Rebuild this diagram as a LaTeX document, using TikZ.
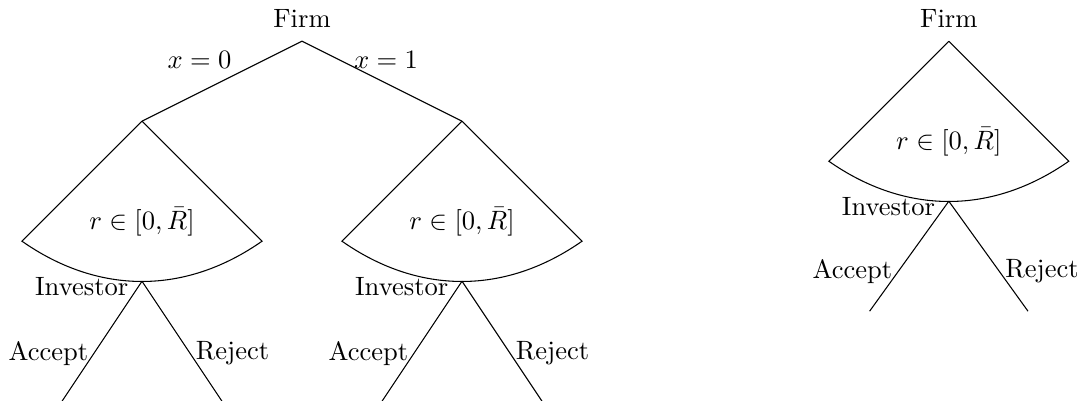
\documentclass[tikz,border=0pt]{standalone}
\usepackage{amsmath}
\usepackage{tikz}

\begin{document}
\begin{tikzpicture}[x=0.53cm, y=0.53cm]
\tikzstyle{player} = [inner sep=2pt]
\tikzstyle{choice} = [inner sep=2pt]
\tikzstyle{edge} = [thin]

\useasboundingbox (0,0) rectangle (26.925,-10);

% game with the choice of x
\coordinate (f1) at (7.55,-1.03);
\coordinate (s0) at (3.55,-3.03);
\coordinate (s1) at (11.55,-3.03);
\coordinate (s0l) at (0.55,-6.03);
\coordinate (s0r) at (6.55,-6.03);
\coordinate (s1l) at (8.55,-6.03);
\coordinate (s1r) at (14.55,-6.03);
\coordinate (i0) at (3.55,-7.03);
\coordinate (i1) at (11.55,-7.03);
\coordinate (a0) at (1.55,-10.03);
\coordinate (r0) at (5.55,-10.03);
\coordinate (a1) at (9.55,-10.03);
\coordinate (r1) at (13.55,-10.03);

\node (firm1) [player, anchor=south, yshift=3pt] at (f1) {Firm};

\draw [edge] (f1) -- node (x0) [pos=0.64, anchor=south, yshift=5.6pt] {$x=0$} (s0);
\draw [edge] (f1) -- node (x1) [pos=0.525, anchor=south, yshift=2.2pt] {$x=1$} (s1);

\draw [edge] (s0) -- (s0l) to[bend right=35] (s0r) -- (s0);
\draw [edge] (s1) -- (s1l) to[bend right=35] (s1r) -- (s1);
\node (rng0) at (3.55,-5.55) {$r \in [0,\bar{R}]$};
\node (rng1) at (11.55,-5.55) {$r \in [0,\bar{R}]$};

\node (inv0) [player, anchor=east, xshift=-3pt, yshift=-2pt] at (i0) {Investor};
\node (inv1) [player, anchor=east, xshift=-3pt, yshift=-2pt] at (i1) {Investor};

\draw [edge] (i0) -- node (acc0) [choice, pos=0.6, anchor=east] {Accept} (a0);
\draw [edge] (i0) -- node (rej0) [choice, pos=0.6, anchor=west] {Reject} (r0);
\draw [edge] (i1) -- node (acc1) [choice, pos=0.6, anchor=east] {Accept} (a1);
\draw [edge] (i1) -- node (rej1) [choice, pos=0.6, anchor=west] {Reject} (r1);

% game without x
\coordinate (f2) at (23.72,-1.03);
\coordinate (s2l) at (20.72,-4.03);
\coordinate (s2r) at (26.72,-4.03);
\coordinate (i2) at (23.72,-5.03);
\coordinate (a2) at (21.74,-7.78);
\coordinate (r2) at (25.70,-7.78);

\node (firm2) [player, anchor=south, yshift=3pt] at (f2) {Firm};

\draw [edge] (f2) -- (s2l) to[bend right=35] (s2r) -- (f2);
\node (rng2) at (23.72,-3.55) {$r \in [0,\bar{R}]$};

\node (inv2) [player, anchor=east, xshift=-3pt, yshift=-2pt] at (i2) {Investor};

\draw [edge] (i2) -- node (acc2) [choice, pos=0.64, anchor=east] {Accept} (a2);
\draw [edge] (i2) -- node (rej2) [choice, pos=0.64, anchor=west] {Reject} (r2);
\end{tikzpicture}
\end{document}
